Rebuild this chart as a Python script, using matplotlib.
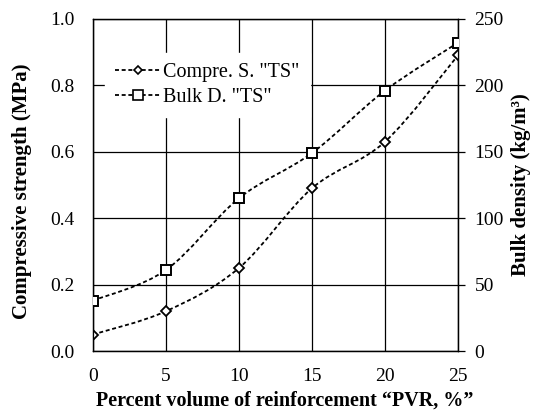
import numpy as np
import matplotlib.pyplot as plt
from matplotlib.path import Path
from matplotlib.patches import PathPatch
from matplotlib.lines import Line2D

plt.rcParams['font.family'] = ['Liberation Serif', 'DejaVu Serif']

pvr = [0, 5, 10, 15, 20, 25]
strength = [0.05, 0.12, 0.25, 0.49, 0.63, 0.89]
density = [38, 61, 115, 149, 196, 232]

def smooth_path(xs, ys):
    # Excel-like smoothed line: Catmull-Rom -> cubic Bezier
    p = np.column_stack([xs, ys]).astype(float)
    verts = [p[0]]
    codes = [Path.MOVETO]
    n = len(p)
    for i in range(n - 1):
        p0 = p[i - 1] if i > 0 else p[i]
        p3 = p[i + 2] if i + 2 < n else p[i + 1]
        c1 = p[i] + (p[i + 1] - p0) / 6
        c2 = p[i + 1] - (p3 - p[i]) / 6
        verts += [c1, c2, p[i + 1]]
        codes += [Path.CURVE4] * 3
    return Path(verts, codes)

fig = plt.figure(figsize=(5.4, 4.19), dpi=100)
ax = fig.add_axes([0.172, 0.162, 0.676, 0.793])
ax2 = ax.twinx()

dash = (0, (2.2, 1.5))
ax.add_patch(PathPatch(smooth_path(pvr, strength), fill=False, ec='black', lw=1.3, linestyle=dash, zorder=3))
ax.plot(pvr, strength, ls='none', marker='D', ms=5.5, mfc='white', mec='black', mew=1.3, zorder=4)
ax2.add_patch(PathPatch(smooth_path(pvr, density), fill=False, ec='black', lw=1.3, linestyle=dash, zorder=3))
ax2.plot(pvr, density, ls='none', marker='s', ms=7.5, mfc='white', mec='black', mew=1.4, zorder=4)

ax.set_xlim(0, 25)
ax.set_ylim(0, 1.0)
ax2.set_ylim(0, 250)
ax.set_xticks(pvr)
ax.set_yticks(np.arange(0, 1.01, 0.2))
ax.set_yticklabels([f'{v:.1f}' for v in np.arange(0, 1.01, 0.2)])
ax2.set_yticks(range(0, 251, 50))
ax.grid(True, color='black', lw=0.9)
ax.set_axisbelow(True)

for a in (ax, ax2):
    for s in a.spines.values():
        s.set_linewidth(0.9)
ax.tick_params(axis='both', labelsize=14, length=0, colors='black')
ax.tick_params(axis='x', pad=12)
ax.tick_params(axis='y', pad=13)
ax2.tick_params(axis='y', labelsize=14, length=5, width=0.9, pad=7)

ax.set_xlabel('Percent volume of reinforcement \u201cPVR, %\u201d', fontsize=14.5, fontweight='bold')
ax.set_ylabel('Compressive strength (MPa)', fontsize=15, fontweight='bold')
ax2.set_ylabel('Bulk density (kg/m\u00b3)', fontsize=15, fontweight='bold')
ax.xaxis.set_label_coords(0.525, -0.12)
ax.yaxis.set_label_coords(-0.168, 0.482)
ax2.yaxis.set_label_coords(1.145, 0.5)

handles = [
    Line2D([], [], color='black', lw=1.3, ls=dash, marker='D', ms=4.5, mfc='white', mec='black', mew=1.2),
    Line2D([], [], color='black', lw=1.3, ls=dash, marker='s', ms=7, mfc='white', mec='black', mew=1.2),
]
leg = ax2.legend(handles, ['Compre. S. "TS"', 'Bulk D. "TS"'], loc='upper left',
                 bbox_to_anchor=(0.033, 0.898), frameon=True, fancybox=False, framealpha=1,
                 edgecolor='white', fontsize=14.5, handlelength=2.3, handletextpad=0.1,
                 labelspacing=0.3, borderpad=0.5, borderaxespad=0)
leg.set_zorder(10)

fig.savefig('out.png', dpi=100)
